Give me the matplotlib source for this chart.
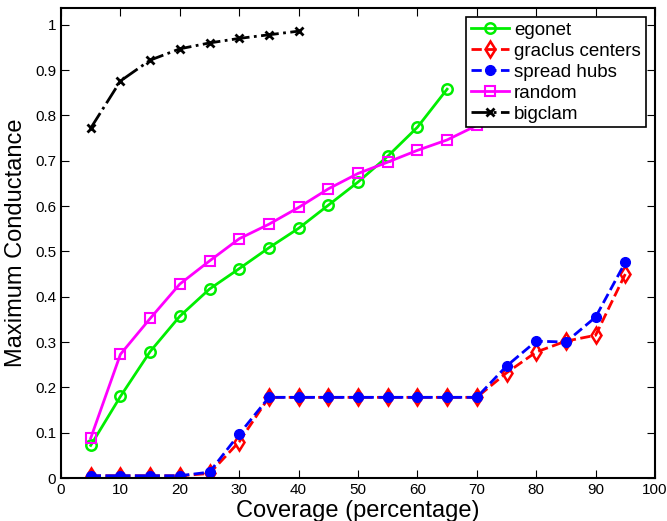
import matplotlib
matplotlib.use("Agg")
import matplotlib.pyplot as plt

plt.rcParams['font.family'] = ['Liberation Sans', 'DejaVu Sans']

coverage = [5, 10, 15, 20, 25, 30, 35, 40, 45, 50, 55, 60, 65, 70, 75, 80, 85, 90, 95]

egonet = [0.072, 0.180, 0.279, 0.357, 0.417, 0.462, 0.508, 0.551, 0.602,
          0.653, 0.710, 0.774, 0.858]
graclus = [0.005, 0.005, 0.005, 0.005, 0.010, 0.080, 0.178, 0.178, 0.178, 0.178,
           0.178, 0.178, 0.178, 0.178, 0.232, 0.278, 0.302, 0.315, 0.450]
spread = [0.005, 0.005, 0.005, 0.005, 0.013, 0.097, 0.178, 0.178, 0.178, 0.178,
          0.178, 0.178, 0.178, 0.178, 0.247, 0.302, 0.300, 0.355, 0.476]
random_seeds = [0.088, 0.273, 0.352, 0.428, 0.479, 0.528, 0.560, 0.597, 0.638,
                0.672, 0.697, 0.723, 0.746, 0.778, 0.800, 0.820, 0.840, 0.860, 0.880]
bigclam = [0.772, 0.876, 0.922, 0.947, 0.960, 0.970, 0.978, 0.986]

fig = plt.figure(figsize=(6.67, 5.21), dpi=100)
ax = fig.add_axes([0.0915, 0.0825, 0.8905, 0.9025])

ax.plot(coverage[:len(egonet)], egonet, '-o', color='#00ee00', lw=2,
        ms=7.5, mfc='none', mew=1.8, label='egonet')
ax.plot(coverage, graclus, '--d', color='red', lw=2, ms=8, mfc='none',
        mew=1.8, label='graclus centers')
ax.plot(coverage, spread, '--o', color='blue', lw=2, ms=7, label='spread hubs')
ax.plot(coverage, random_seeds, '-s', color='#ff00ff', lw=2, ms=6.5, mfc='none',
        mew=1.5, label='random')
ax.plot(coverage[:len(bigclam)], bigclam, '-.x', color='black', lw=2, ms=5.5,
        mew=2, label='bigclam')

ax.set_xlim(0, 100)
ax.set_ylim(0, 1.0375)
ax.set_xticks(range(0, 101, 10))
ax.set_yticks([0, 0.1, 0.2, 0.3, 0.4, 0.5, 0.6, 0.7, 0.8, 0.9, 1])
ax.set_yticklabels(['0', '0.1', '0.2', '0.3', '0.4', '0.5', '0.6', '0.7',
                    '0.8', '0.9', '1'])
ax.tick_params(direction='in', top=True, right=True, labelsize=11, length=6)
for s in ax.spines.values():
    s.set_linewidth(1.5)

ax.set_xlabel('Coverage (percentage)', fontsize=17, labelpad=2)
ax.set_ylabel('Maximum Conductance', fontsize=17, labelpad=6)

leg = ax.legend(loc='upper right', fontsize=13.5, fancybox=False, framealpha=1,
                edgecolor='black', borderaxespad=0.5, handlelength=2.0,
                labelspacing=0.2, handletextpad=0.3, borderpad=0.25)
leg.get_frame().set_linewidth(1.2)

fig.savefig('out.png', dpi=100)
